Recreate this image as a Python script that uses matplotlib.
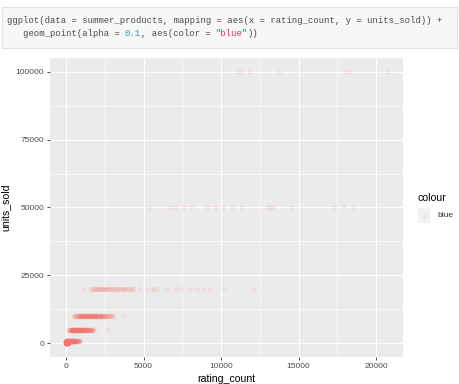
import numpy as np
import matplotlib
matplotlib.use("Agg")
import matplotlib.pyplot as plt
from matplotlib.patches import Rectangle

# rating_count values, grouped by units_sold level,
# with how many products sit (roughly) at each value
r_10 = [0, 10, 30, 60]
n_10 = [5, 4, 3, 2]
r_100 = [0, 20, 50, 90, 140, 200, 270]
n_100 = [10, 8, 6, 5, 4, 3, 2]
r_1000 = [0, 60, 120, 180, 240, 300, 370, 440, 510, 580, 650, 720, 790, 860, 930]
n_1000 = [10, 10, 10, 9, 9, 8, 8, 7, 7, 6, 6, 5, 4, 3, 2]
r_5000 = [200, 260, 320, 380, 440, 500, 560, 620, 680, 740, 800, 860, 920, 980,
          1040, 1100, 1160, 1220, 1280, 1340, 1400, 1460, 1520, 1580, 1640,
          1700, 1760, 1820, 2650]
n_5000 = [3, 4, 5, 6, 6, 7, 7, 7, 7, 7, 7, 7, 6, 6, 6, 6, 5, 5, 5, 4, 4, 4,
          3, 3, 3, 2, 2, 1, 1]
r_10000 = [500, 580, 660, 740, 820, 900, 980, 1060, 1140, 1220, 1300, 1380,
           1460, 1540, 1620, 1700, 1780, 1860, 1940, 2020, 2100, 2180, 2260,
           2340, 2420, 2500, 2580, 2660, 2740, 2820, 2900, 2980, 3050, 3650]
n_10000 = [2, 2, 3, 3, 4, 4, 5, 5, 5, 5, 5, 5, 5, 5, 5, 5, 5, 5, 5, 4, 4, 4,
           4, 4, 3, 3, 3, 2, 2, 2, 2, 1, 1, 1]
r_20000 = [1080, 1550, 1650, 1740, 1840, 1930, 2030, 2130, 2230, 2320, 2420,
           2520, 2610, 2710, 2800, 2900, 3000, 3100, 3190, 3290, 3390, 3480,
           3580, 3680, 3770, 3870, 3960, 4060, 4200, 4320, 4770, 5200, 5610,
           5870, 6500, 7030, 7460, 8000, 8430, 8860, 9290, 10190, 12040]
n_20000 = [1, 1, 1, 2, 1, 2, 2, 2, 1, 2, 2, 2, 1, 2, 1, 2, 2, 1, 1, 2, 1, 1,
           1, 2, 1, 1, 1, 2, 1, 2, 1, 1, 2, 1, 1, 1, 1, 1, 1, 1, 1, 1, 1]
r_50000 = [5380, 6710, 7030, 7570, 8040, 9070, 9610, 10150, 10690, 11330,
           12940, 13150, 13370, 14560, 17240, 17890, 18530]
r_100000 = [11010, 11330, 11870, 13760, 18000, 18320, 20690]

levels = [10, 100, 1000, 5000, 10000, 20000, 50000, 100000]
ratings = [r_10, r_100, r_1000, r_5000, r_10000, r_20000, r_50000, r_100000]
counts = [n_10, n_100, n_1000, n_5000, n_10000, n_20000,
          [1] * len(r_50000), [1] * len(r_100000)]

xs = np.concatenate([np.repeat(r, n) for r, n in zip(ratings, counts)])
ys = np.concatenate([np.full(int(np.sum(n)), lv) for lv, n in zip(levels, counts)])

x_ticks = [0, 5000, 10000, 15000, 20000]
y_ticks = [0, 25000, 50000, 75000, 100000]

W, H = 459, 384
fig = plt.figure(figsize=(W / 100, H / 100), dpi=100)
fig.patch.set_facecolor("white")

def fx(px):
    return px / W

def fy(py):
    return 1 - py / H

# code cell at the top
fig.patches.append(Rectangle((fx(2), fy(48)), fx(455), (48 - 7) / H,
                             transform=fig.transFigure, facecolor="#f7f7f7",
                             edgecolor="#e3e3e3", linewidth=0.8))
cw = 5.34
mono = dict(family="Liberation Mono", fontsize=6.4, va="center", ha="left")
line1 = "ggplot(data = summer_products, mapping = aes(x = rating_count, y = units_sold)) +"
fig.text(fx(7.3), fy(20.7), line1, color="#4a4a4a", **mono)
parts = [("   geom_point(alpha = ", "#4a4a4a"), ("0.1", "#2aa1b3"),
         (", aes(color = ", "#4a4a4a"), ('"blue"', "#d1335e"), ("))", "#4a4a4a")]
pos = 0
for txt, col in parts:
    fig.text(fx(7.3 + pos * cw), fy(34), txt, color=col, **mono)
    pos += len(txt)

# panel
ax = fig.add_axes([fx(50), fy(357), (403 - 50) / W, (357 - 58) / H])
ax.set_facecolor("#ebebeb")
for s in ax.spines.values():
    s.set_visible(False)

ax.scatter(xs, ys, s=15, color="#F8766D", alpha=0.1, linewidths=0, zorder=3)

xmax = 20690
ax.set_xlim(-0.05 * xmax, 1.05 * xmax)
ax.set_ylim(-5000, 105000)
ax.set_xticks(x_ticks)
ax.set_yticks(y_ticks)
ax.set_xticks([2500, 7500, 12500, 17500], minor=True)
ax.set_yticks([12500, 37500, 62500, 87500], minor=True)
ax.grid(which="major", color="white", linewidth=0.9, zorder=0)
ax.grid(which="minor", color="white", linewidth=0.45, zorder=0)
ax.set_axisbelow(True)
ax.tick_params(which="major", length=2.2, width=0.6, color="#333333",
               labelsize=6, labelcolor="#4d4d4d", pad=2)
ax.tick_params(which="minor", length=0)
for lab in ax.get_xticklabels() + ax.get_yticklabels():
    lab.set_family("Liberation Sans")

ax.set_xlabel("rating_count", fontsize=7.6, family="Liberation Sans",
              color="black", labelpad=3)
ax.set_ylabel("units_sold", fontsize=7.6, family="Liberation Sans",
              color="black", labelpad=4)

# legend
fig.text(fx(418), fy(198), "colour", fontsize=7.6, family="Liberation Sans",
         va="center", ha="left", color="black")
fig.patches.append(Rectangle((fx(418), fy(223)), 12 / W, 15 / H,
                             transform=fig.transFigure, facecolor="#f2f2f2",
                             edgecolor="none"))
fig.add_artist(plt.Line2D([fx(424)], [fy(215.5)], marker="o", markersize=3.8,
                          color="#F8766D", alpha=0.1, markeredgewidth=0,
                          transform=fig.transFigure))
fig.text(fx(437), fy(215.5), "blue", fontsize=6, family="Liberation Sans",
         va="center", ha="left", color="#333333")

fig.savefig("out.png", dpi=100)
